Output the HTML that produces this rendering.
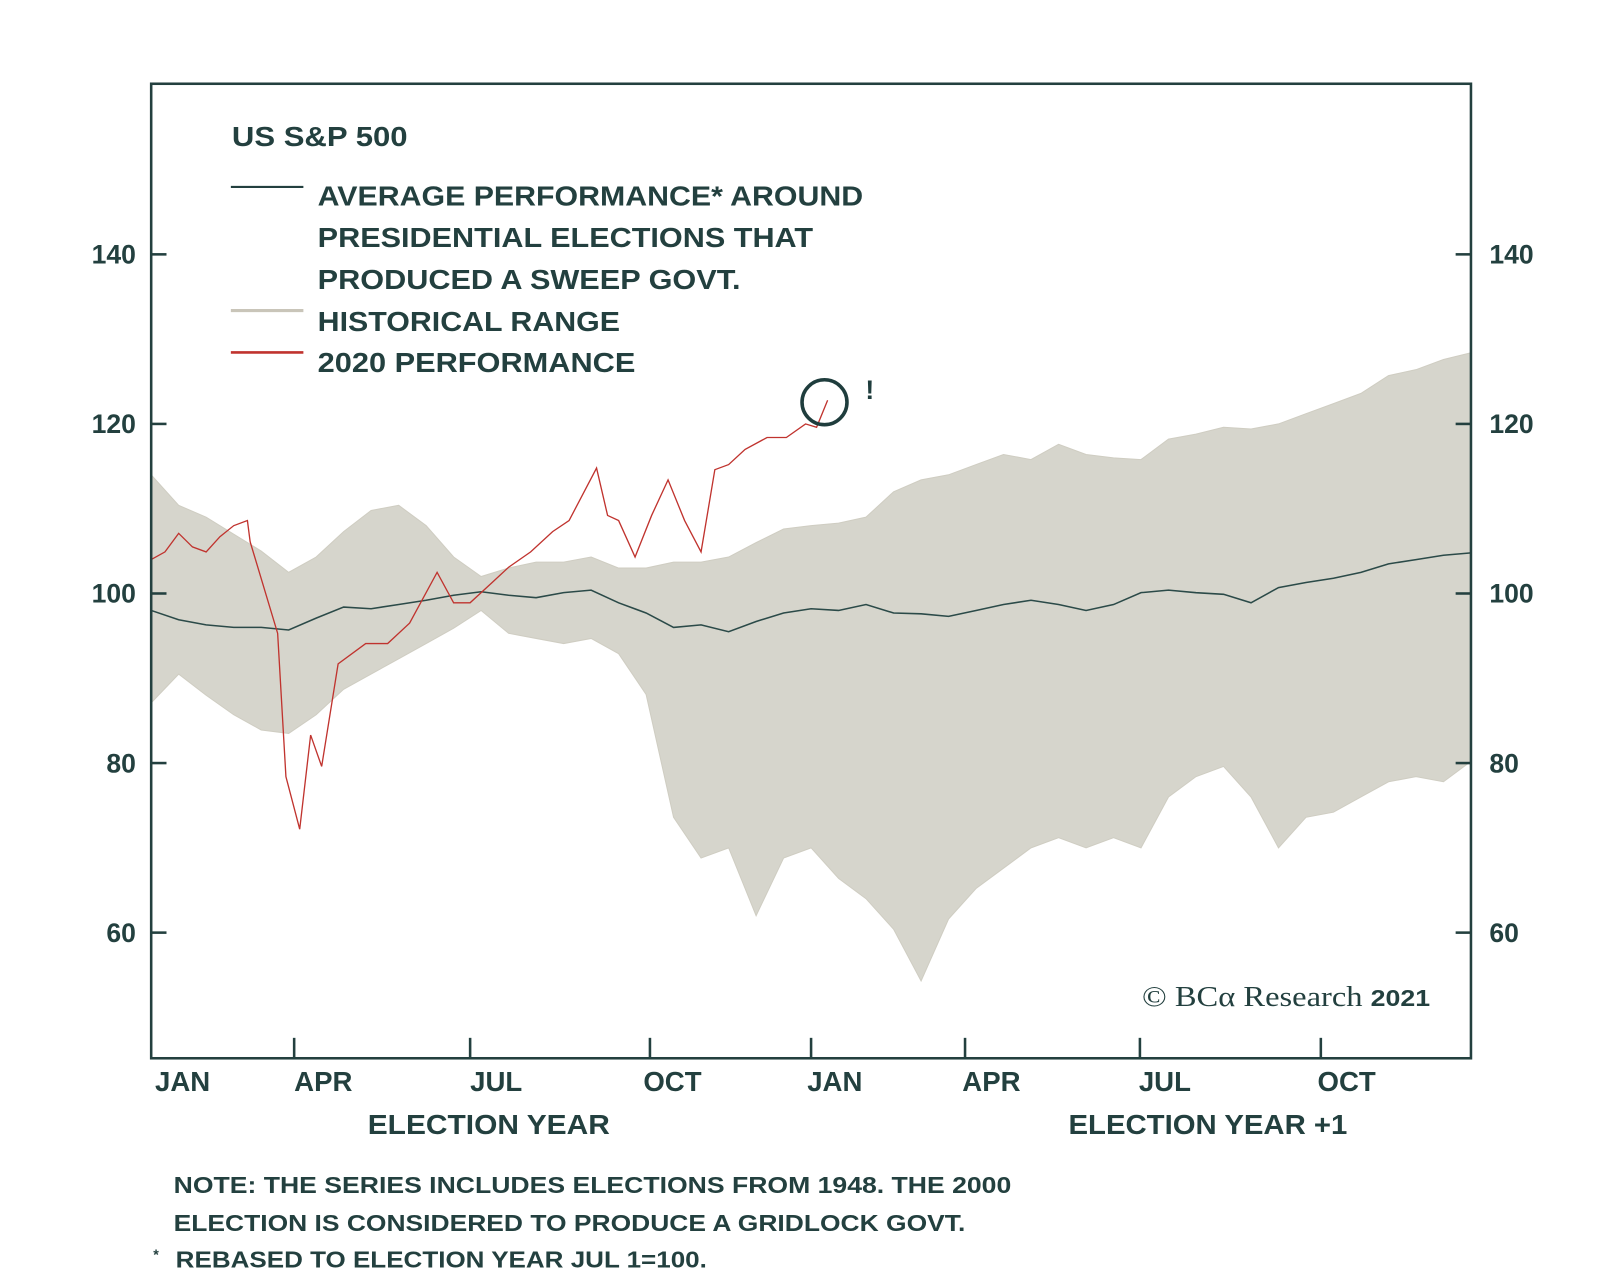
<!DOCTYPE html>
<html><head><meta charset="utf-8"><style>
body{margin:0;background:#fff;}
svg{display:block;font-family:"Liberation Sans",sans-serif;font-weight:bold;}
</style></head><body>
<svg id="chart" width="1600" height="1286" viewBox="0 0 1600 1286" xmlns="http://www.w3.org/2000/svg">
<rect width="1600" height="1286" fill="#fff"/>
<g transform="scale(1.0215)">
<g id="plot"></g>
<rect x="148" y="82" width="1292" height="954" fill="none" stroke="#23403f" stroke-width="2.5"/>
<g id="axes"></g>
<g fill="#23403f" font-size="27">
<text x="227" y="143" textLength="172" lengthAdjust="spacingAndGlyphs">US S&amp;P 500</text>
<line x1="226" y1="183" x2="297" y2="183" stroke="#23403f" stroke-width="2"/>
<text x="311" y="201" textLength="534" lengthAdjust="spacingAndGlyphs">AVERAGE PERFORMANCE* AROUND</text>
<text x="311" y="242" textLength="485" lengthAdjust="spacingAndGlyphs">PRESIDENTIAL ELECTIONS THAT</text>
<text x="311" y="283" textLength="414" lengthAdjust="spacingAndGlyphs">PRODUCED A SWEEP GOVT.</text>
<line x1="226" y1="304" x2="297" y2="304" stroke="#c9c5b9" stroke-width="3"/>
<text x="311" y="324" textLength="296" lengthAdjust="spacingAndGlyphs">HISTORICAL RANGE</text>
<line x1="226" y1="345" x2="297" y2="345" stroke="#c0332e" stroke-width="2.5"/>
<text x="311" y="364" textLength="311" lengthAdjust="spacingAndGlyphs">2020 PERFORMANCE</text>
</g>
<text x="1118" y="985" textLength="282" lengthAdjust="spacingAndGlyphs" font-family="Liberation Serif,serif" font-weight="normal" font-size="28" fill="#23403f">© BCα Research <tspan font-weight="bold" font-family="Liberation Sans,sans-serif" font-size="23">2021</tspan></text>
<g fill="#23403f" font-size="27">
<text x="360" y="1110" textLength="237" lengthAdjust="spacingAndGlyphs">ELECTION YEAR</text>
<text x="1046" y="1110" textLength="273" lengthAdjust="spacingAndGlyphs">ELECTION YEAR +1</text>
</g>
<g fill="#23403f" font-size="23">
<text x="170" y="1168" textLength="820" lengthAdjust="spacingAndGlyphs">NOTE: THE SERIES INCLUDES ELECTIONS FROM 1948. THE 2000</text>
<text x="170" y="1205" textLength="775" lengthAdjust="spacingAndGlyphs">ELECTION IS CONSIDERED TO PRODUCE A GRIDLOCK GOVT.</text>
<text x="150" y="1233" font-size="14">*</text>
<text x="172" y="1241" textLength="520" lengthAdjust="spacingAndGlyphs">REBASED TO ELECTION YEAR JUL 1=100.</text>
</g>
</g>
</svg>
<script>
const bandMonths = [0,0.5,1,1.5,2,2.5,3,3.5,4,4.5,5,5.5,6,6.5,7,7.5,8,8.5,9,9.5,10,10.5,11,11.5,12,12.5,13,13.5,14,14.5,15,15.5,16,16.5,17,17.5,18,18.5,19,19.5,20,20.5,21,21.5,22,22.5,23,23.5,24];
const upperValues = [114,110.4,109,107,105,102.5,104.3,107.3,109.8,110.4,108,104.3,102,103,103.7,103.7,104.3,103,103,103.7,103.7,104.3,106,107.6,108,108.3,109,112,113.4,114,115.2,116.4,115.8,117.6,116.4,116,115.8,118.2,118.8,119.6,119.4,120,121.2,122.4,123.6,125.7,126.4,127.6,128.4];
const lowerValues = [87.1,90.5,88,85.7,83.9,83.5,85.7,88.7,90.5,92.3,94.1,95.9,98,95.3,94.7,94.1,94.7,92.9,88.1,73.6,68.8,70,62,68.8,70,66.4,64,60.4,54.3,61.6,65.2,67.6,70,71.2,70,71.2,70,76,78.4,79.6,76,70,73.6,74.2,76,77.8,78.4,77.8,80.2];
const averageValues = [98,96.9,96.3,96,96,95.7,97.1,98.4,98.2,98.7,99.2,99.8,100.2,99.8,99.5,100.1,100.4,98.9,97.7,96,96.3,95.5,96.7,97.7,98.2,98,98.7,97.7,97.6,97.3,98,98.7,99.2,98.7,98,98.7,100.1,100.4,100.1,99.9,98.9,100.7,101.3,101.8,102.5,103.5,104,104.5,104.8];
const perfMonths = [0,0.25,0.5,0.75,1,1.25,1.5,1.75,1.8,2.3,2.45,2.7,2.9,3.1,3.4,3.9,4.3,4.7,5.2,5.5,5.8,6.2,6.5,6.9,7.3,7.6,8.1,8.3,8.5,8.8,9.1,9.4,9.7,10.0,10.25,10.5,10.8,11.2,11.55,11.9,12.1,12.3];
const perfValues = [104,104.9,107.1,105.5,104.9,106.7,108,108.6,106.1,95.3,78.4,72.2,83.3,79.6,91.7,94.1,94.1,96.5,102.5,98.9,98.9,101.3,103.1,104.9,107.3,108.6,114.8,109.2,108.6,104.3,109.2,113.4,108.6,104.9,114.6,115.2,117,118.4,118.4,120,119.6,122.8];
const yTicks = [60,80,100,120,140];
const xTickMonths = [2.6,5.8,9.07,12,14.8,17.98,21.27];
const xLabels = ["JAN","APR","JUL","OCT","JAN","APR","JUL","OCT"];
const xLabelMonths = [0.07,2.6,5.8,8.95,11.93,14.75,17.96,21.21];

const X0=148,X1=1440;
const x = m => X0 + (m/24)*(X1-X0);
const y = v => 581 - (v-100)*8.3;
const NS="http://www.w3.org/2000/svg";
const plot=document.getElementById('plot'), axes=document.getElementById('axes');
function mk(tag, attrs, parent){const e=document.createElementNS(NS,tag);for(const k in attrs)e.setAttribute(k,attrs[k]);parent.appendChild(e);return e;}

let d = bandMonths.map((m,i)=>(i?'L':'M')+x(m).toFixed(1)+','+y(upperValues[i]).toFixed(1)).join('');
for(let i=bandMonths.length-1;i>=0;i--) d+='L'+x(bandMonths[i]).toFixed(1)+','+y(lowerValues[i]).toFixed(1);
const band=mk('path',{d:d+'Z',fill:'#d6d5cc',stroke:'#cfcdc2','stroke-width':1},plot);



const avg=mk('path',{d:bandMonths.map((m,i)=>(i?'L':'M')+x(m).toFixed(1)+','+y(averageValues[i]).toFixed(1)).join(''),fill:'none',stroke:'#2b4a48','stroke-width':1.5},plot);



const perf=mk('path',{d:perfMonths.map((m,i)=>(i?'L':'M')+x(m).toFixed(1)+','+y(perfValues[i]).toFixed(1)).join(''),fill:'none',stroke:'#c0332e','stroke-width':1.3},plot);



const lastM=perfMonths[perfMonths.length-1], lastV=perfValues[perfValues.length-1];
const circ=mk('circle',{cx:x(lastM)-3,cy:y(lastV)+2,r:22,fill:'none',stroke:'#1f3d3d','stroke-width':3.5},plot);


const ex=mk('text',{x:x(lastM)+37,y:y(lastV)-1,'font-size':26,fill:'#1f3d3d'},plot);
ex.textContent='!';



yTicks.forEach(v=>{
  const t1=mk('line',{x1:148,x2:163,y1:y(v),y2:y(v),stroke:'#23403f','stroke-width':2.5},axes);
  
  
  const t2=mk('line',{x1:1425,x2:1440,y1:y(v),y2:y(v),stroke:'#23403f','stroke-width':2.5},axes);
  
  
  const l1=mk('text',{x:133,y:y(v)+9,'text-anchor':'end','font-size':26,fill:'#23403f'},axes);
  l1.textContent=v;
  
  
  const l2=mk('text',{x:1458,y:y(v)+9,'font-size':26,fill:'#23403f'},axes);
  l2.textContent=v;
  
  
});
xTickMonths.forEach(m=>{
  const t=mk('line',{x1:x(m),x2:x(m),y1:1016,y2:1036,stroke:'#23403f','stroke-width':2.5},axes);
  
  
});
xLabels.forEach((s,i)=>{
  const t=mk('text',{x:x(xLabelMonths[i]),y:1068,'font-size':27,fill:'#23403f'},axes);
  t.textContent=s;
  
  
});
</script>
</body></html>
